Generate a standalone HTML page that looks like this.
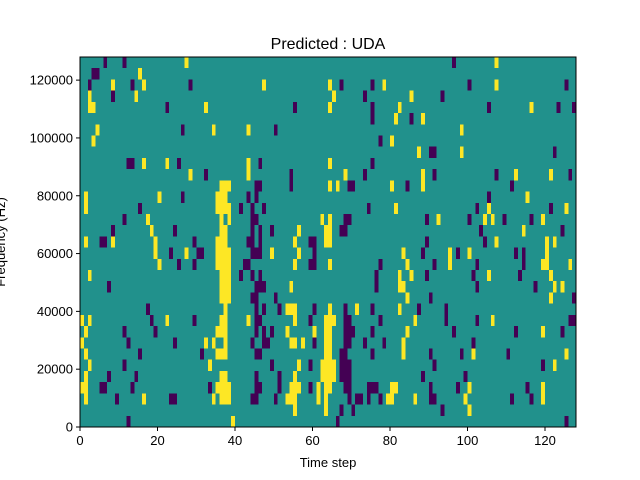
<!DOCTYPE html>
<html><head><meta charset="utf-8"><style>
body{margin:0;background:#fff;}
svg{display:block;font-family:"Liberation Sans","DejaVu Sans",sans-serif;}
</style></head><body>
<svg id="chart" width="640" height="480" viewBox="0 0 640 480" xmlns="http://www.w3.org/2000/svg">
<rect width="640" height="480" fill="#fff"/>
<text x="328" y="49" font-size="16" text-anchor="middle">Predicted : UDA</text>
<g id="cells" shape-rendering="crispEdges"></g>
<rect x="80" y="57" width="496" height="370" fill="none" stroke="#000" stroke-width="1"/>
<g id="xticks"></g>
<g id="yticks"></g>
<text x="328" y="467" font-size="13" text-anchor="middle">Time step</text>
<text transform="translate(5,242) rotate(-90)" font-size="13" text-anchor="middle">Frequency (Hz)</text>
</svg>
<script>
const nCols = 128;
const nRows = 33;
const xTicks = [0,20,40,60,80,100,120];
const yTicks = [0,20000,40000,60000,80000,100000,120000];
const yMax = 128000;
// row 0 = top row; strings list column indices (ranges a-b)
const yellowRows = [
"27,107","15","8,16,47,64,78,107","2,14,65,85","2-3,32,64,82,116","81,88","4,34,43,98","3,80",
"87,98","16,22,43,64","28,43,68,88,112,121","36-38,64,66,80,88","1,20,35-37,115","1,35-38,81,105,125","17,36,38,62,64,92,104,106,119","18,36-37,56,63-64,114",
"1,8,19,35-37,55,63-64,107,120,122","19,27,35-38,49,56,83,95,100,120","20,35-38,55,64,84,95,119-120,126","2,36-38,82,85,105,121","36-38,54,82-83,122,124","36-38,84,121","37,53-55,64,71,82","0,2,22,36-37,43,55,63-65,86,106",
"1,35-37,53,60,63-64,84,119","0,32,34,37,54-55,57,63-64,83","1,35-37,63-64,83,101,125","2,33,56,62-65,122","1,36-37,55,62-65","0-1,35-38,54-56,61,63-64,80-81,100,119","1,16,34,36-38,53-55,61,63,79-80,86,99,119","55,63,100","39"
];
const purpleRows = [
"6,11,96","3-4","2,13,28,67,75,100,125","8,73,93","22,55,75,105,123,127","75,85","26,50","77",
"90-91,122","12-13,25,46,75","32,54,73,91,107,126","45-46,54,69-70,84,111","26,43,45,105","15,41,44,47,74,102,121","11,44-45,68-69,89,100,109,116","8,24,44,46,49,67-68,103,124",
"5-6,29,43-44,46,59-60,89,104","23,30-31,44-46,60,88,97,112,114","25,29,42-43,59-60,77,91,102,114","41,44,46,76,89,101,113","7,45-47,76,102,117","44-45,50,90,127","17,45,47,51,60,68,75,87,94","18,29,45-46,59,68-69,77,94,102,126-127",
"11,19,45,47,49,68-70,75,96,112,124","12,24,44,47-48,60,68-69,73,78,101","15,31,45-46,67-68,75,90,98,110","11,49,59,67-69,91,119","7,14,45,51,67-69,88,99","5-6,13,33,45-46,51,59,68-69,74-76,90,97,115","9,23-24,44-45,50,69,71-72,74,77,90-91,111,116","67,70,93","12,66,125"
];
const X0=80, X1=576, Y0=57, Y1=427;
function xScale(c){return X0+(c/nCols)*(X1-X0);}
function rowTop(r){return Y0+(r/nRows)*(Y1-Y0);}
function yScale(v){return Y1-(v/yMax)*(Y1-Y0);}
function parseList(s){const out=[];if(!s)return out;s.split(',').forEach(t=>{if(t.indexOf('-')>0){const [a,b]=t.split('-').map(Number);for(let i=a;i<=b;i++)out.push(i);}else out.push(Number(t));});return out;}
const NS="http://www.w3.org/2000/svg";
const g=document.getElementById('cells');
const bg=document.createElementNS(NS,'rect');
bg.setAttribute('x',X0);bg.setAttribute('y',Y0);bg.setAttribute('width',X1-X0);bg.setAttribute('height',Y1-Y0);bg.setAttribute('fill','#21918c');


g.appendChild(bg);
function drawRows(rows,color,name){
  rows.forEach((s,r)=>{
    parseList(s).forEach(c=>{
      const el=document.createElementNS(NS,'rect');
      const x=xScale(c), y=rowTop(r);
      el.setAttribute('x',x.toFixed(2));el.setAttribute('y',y.toFixed(2));
      el.setAttribute('width',(xScale(c+1)-x).toFixed(2));el.setAttribute('height',(rowTop(r+1)-y).toFixed(2));
      el.setAttribute('fill',color);
      
      
      g.appendChild(el);
    });
  });
}
drawRows(yellowRows,'#fde725','heatmap-cell-high');
drawRows(purpleRows,'#440154','heatmap-cell-low');
const xg=document.getElementById('xticks');
xTicks.forEach(v=>{
  const x=xScale(v);
  const l=document.createElementNS(NS,'line');
  l.setAttribute('x1',x);l.setAttribute('x2',x);l.setAttribute('y1',Y1);l.setAttribute('y2',Y1+4);l.setAttribute('stroke','#000');
  
  
  xg.appendChild(l);
  const t=document.createElementNS(NS,'text');
  t.setAttribute('x',x);t.setAttribute('y',Y1+18);t.setAttribute('font-size','13');t.setAttribute('text-anchor','middle');
  t.textContent=v;
  
  
  xg.appendChild(t);
});
const yg=document.getElementById('yticks');
yTicks.forEach(v=>{
  const y=yScale(v);
  const l=document.createElementNS(NS,'line');
  l.setAttribute('x1',X0-4);l.setAttribute('x2',X0);l.setAttribute('y1',y);l.setAttribute('y2',y);l.setAttribute('stroke','#000');
  
  
  yg.appendChild(l);
  const t=document.createElementNS(NS,'text');
  t.setAttribute('x',X0-7);t.setAttribute('y',y+4.5);t.setAttribute('font-size','13');t.setAttribute('text-anchor','end');
  t.textContent=v;
  
  
  yg.appendChild(t);
});
</script>
</body></html>
